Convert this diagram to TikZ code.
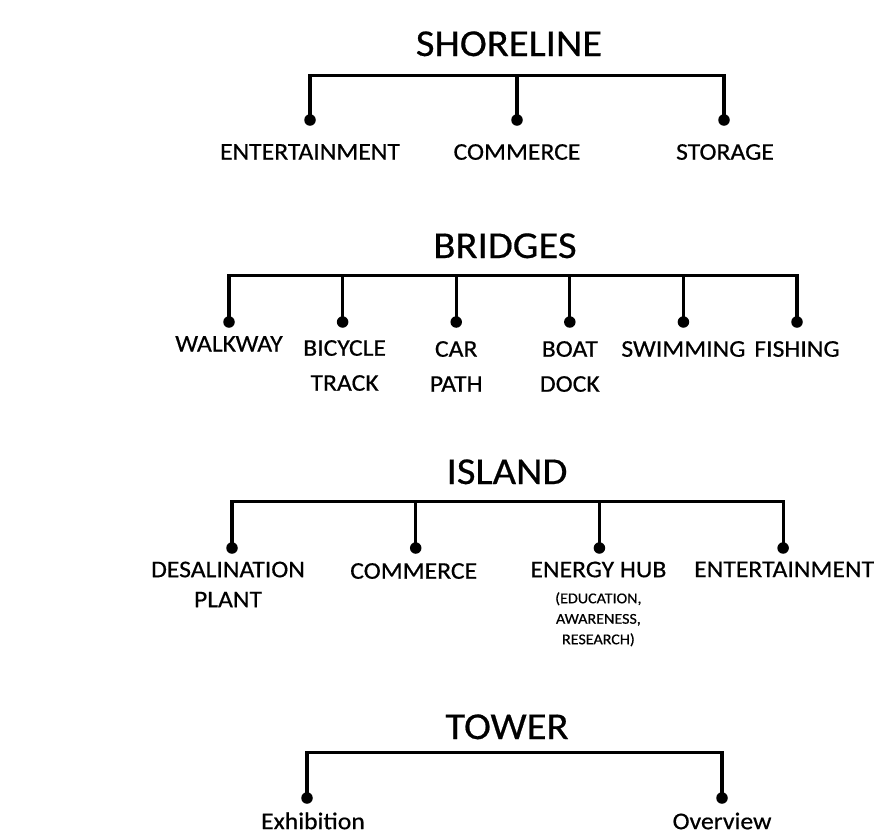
\documentclass[tikz,border=0pt]{standalone}
\usepackage{fontspec}
\setmainfont{Carlito}[FakeStretch=1.07,FakeBold=0.5]
\usepackage{tikz}
\usetikzlibrary{trees}
\tikzstyle{title}=[inner sep=0pt,anchor=center,text height=24pt,text depth=0pt,font=\fontsize{38}{40}\selectfont]
\tikzstyle{dot}=[circle,fill=black,inner sep=0pt,minimum size=11.5pt]
\tikzstyle{lbl}=[inner sep=0pt,align=center,font=\fontsize{24}{35}\selectfont]
\tikzset{bar drop/.store in=\bardrop, bar drop=17pt}

\begin{document}
\begin{tikzpicture}[x=1pt,y=-1pt,
  edge from parent/.style={draw,line width=3.2pt},
  edge from parent path={([yshift=-\bardrop]\tikzparentnode.south) -| (\tikzchildnode.center)}]
  \useasboundingbox (0,0) rectangle (877,839);
  % shoreline
  \node[title] (shore) at (509,44) {SHORELINE}
    [bar drop=19pt, label distance=18pt,
     grow via three points={one child at (-199,76) and
     two children at (-199,76) and (8,76)}]
    child { node[dot,label={[lbl]below:ENTERTAINMENT}] (sh-ent) {} }
    child { node[dot,label={[lbl]below:COMMERCE}] (sh-com) {} }
    child { node[dot,label={[lbl,xshift=1pt]below:STORAGE}] (sh-sto) {} };
  % bridges
  \node[title] (bridge) at (505,246) {BRIDGES}
    [bar drop=17pt, label distance=13pt,
     grow via three points={one child at (-276,76) and
     two children at (-276,76) and (-162.4,76)}]
    child { node[dot,label={[lbl,yshift=5pt]below:WALKWAY}] (br-walk) {} }
    child { node[dot,label={[lbl,xshift=2pt,yshift=1pt]below:BICYCLE\\TRACK}] (br-bike) {} }
    child { node[dot,label={[lbl]below:CAR\\PATH}] (br-car) {} }
    child { node[dot,label={[lbl]below:BOAT\\DOCK}] (br-boat) {} }
    child { node[dot,label={[lbl]below:SWIMMING}] (br-swim) {} }
    child { node[dot,label={[lbl]below:FISHING}] (br-fish) {} };
  % island
  \node[title] (island) at (507,472) {ISLAND}
    [bar drop=17pt, label distance=7.5pt,
     grow via three points={one child at (-275,76) and
     two children at (-275,76) and (-91.3,76)}]
    child { node[dot,label={[lbl,xshift=-4pt,font=\fontsize{24}{30}\selectfont]below:DESALINATION\\PLANT}] (is-desal) {} }
    child { node[dot,label={[lbl,xshift=-2pt,yshift=-1.5pt]below:COMMERCE}] (is-com) {} }
    child { node[dot,label={[lbl,xshift=-1pt,font=\fontsize{24}{20.5}\selectfont]below:ENERGY HUB\\[5.5pt]
      {\fontsize{15}{20.5}\selectfont (EDUCATION,}\\{\fontsize{15}{20.5}\selectfont AWARENESS,}\\{\fontsize{15}{20.5}\selectfont RESEARCH)}}] (is-energy) {} }
    child { node[dot,label={[lbl,xshift=1pt]below:ENTERTAINMENT}] (is-ent) {} };
  % tower
  \node[title] (tower) at (507,727) {TOWER}
    [bar drop=13pt, label distance=9pt,
     grow via three points={one child at (-200,71) and
     two children at (-200,71) and (215,71)}]
    child { node[dot,label={[lbl,xshift=6pt,text height=16pt]below:Exhibition}] (tw-exh) {} }
    child { node[dot,label={[lbl,text height=16pt]below:Overview}] (tw-over) {} };
\end{tikzpicture}
\end{document}
